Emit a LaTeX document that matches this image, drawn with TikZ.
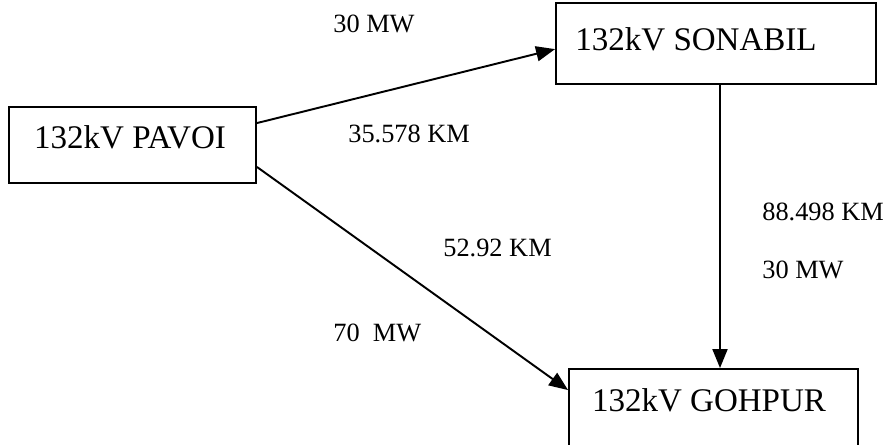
\documentclass[tikz,border=0pt]{standalone}
\usepackage{fontspec}
\setmainfont{Liberation Serif}
\usetikzlibrary{arrows.meta}
\begin{document}
\begin{tikzpicture}[x=0.02cm,y=-0.02cm,
    station/.style={draw,line width=1.1pt,inner sep=0pt},
    stationlabel/.style={inner sep=0pt,font=\fontsize{18.8}{22}\selectfont},
    info/.style={inner sep=0pt,anchor=west,font=\fontsize{15}{18}\selectfont},
    feeder/.style={line width=1.1pt,-{Triangle[length=0.38cm,width=0.3cm]}}]
      \useasboundingbox (0,0) rectangle (885,444);
      \node[station,minimum width=4.94cm,minimum height=1.52cm](pavoi) at (132.5,145){};
      \node[station,minimum width=6.4cm,minimum height=1.62cm](sonabil) at (716,43.5){};
      \node[station,minimum width=5.78cm,minimum height=1.66cm](gohpur) at (713.5,410.5){};
      \node[stationlabel](pavoi-t) at (130,137){132kV PAVOI};
      \node[stationlabel](sonabil-t) at (696,39){132kV SONABIL};
      \node[stationlabel](gohpur-t) at (709,400){132kV GOHPUR};
      \draw[feeder] (pavoi.10) -- (sonabil.182);
      \draw[feeder] (pavoi.-10) -- (gohpur.172);
      \draw[feeder] ([xshift=0.08cm]sonabil.south) -- ([xshift=0.08cm]sonabil.south |- gohpur.north);
      \node[info](p-s-mw) at (333,24){30 MW};
      \node[info](p-s-km) at (348,134){35.578 KM};
      \node[info](p-g-km) at (443,248){52.92 KM};
      \node[info](p-g-mw) at (333,333){70\ \ MW};
      \node[info](s-g-km) at (762,212){88.498 KM};
      \node[info](s-g-mw) at (762,270){30 MW};
    \end{tikzpicture}
\end{document}
